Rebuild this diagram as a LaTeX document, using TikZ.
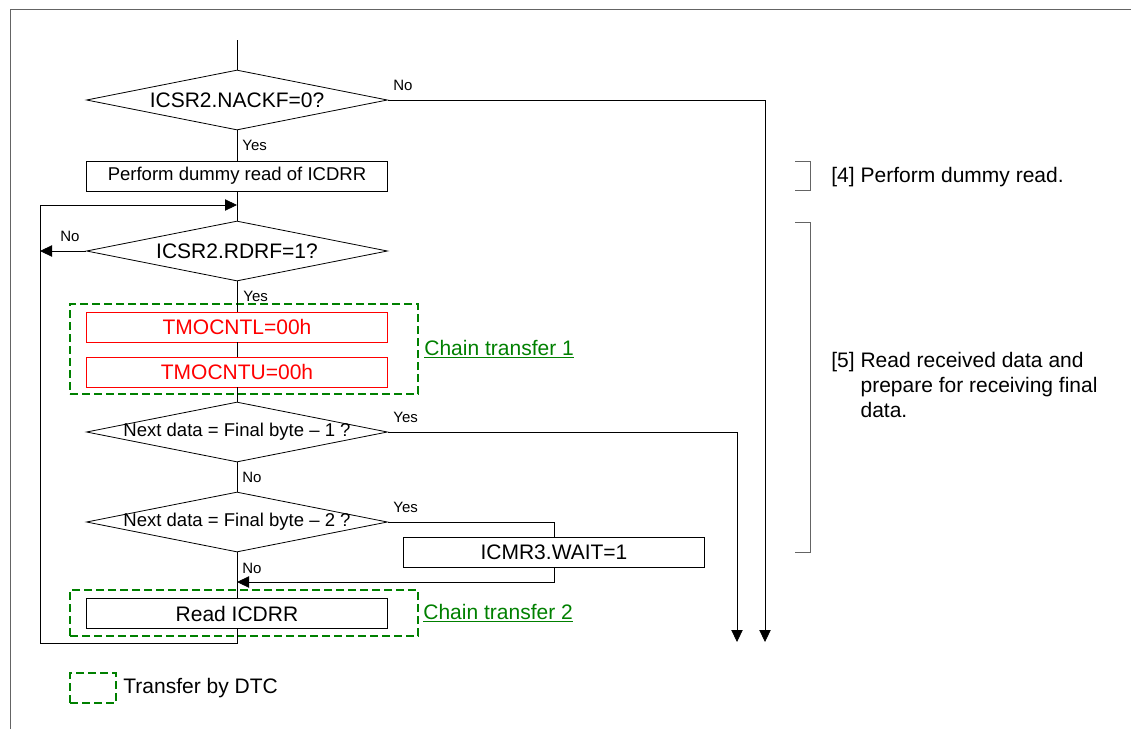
\documentclass[tikz,border=0pt]{standalone}
\usepackage{fontspec}
\setmainfont{Liberation Sans}
\usetikzlibrary{shapes.geometric,arrows.meta}

\definecolor{dtc}{RGB}{0,128,0}
\definecolor{reg}{RGB}{255,0,0}
\definecolor{frm}{RGB}{100,100,100}

\begin{document}
\begin{tikzpicture}[x=0.75pt,y=-0.75pt,line width=0.6pt,
    >={Triangle[length=9pt,width=8.5pt]},
    big/.style={font=\fontsize{15.75}{18.75}\selectfont},
    mid/.style={font=\fontsize{13.9}{16}\selectfont},
    lbl/.style={font=\fontsize{11.25}{13}\selectfont,anchor=west,inner sep=0},
    decision/.style={draw,diamond,aspect=5,inner sep=0,minimum width=225.75pt,minimum height=45pt},
    proc/.style={draw,rectangle,inner sep=0,minimum width=225.75pt,minimum height=22.5pt},
    dtcbox/.style={draw=dtc,dash pattern=on 6pt off 3pt,line width=1.1pt,inner sep=0}]

      \useasboundingbox (0,0) rectangle (1131,729);
      \draw[frm] (10,729) -- (10,9) -- (1131,9);

      \coordinate (start) at (237,40);
      \node[decision,big] (nackf) at (237,100) {\makebox[0pt]{ICSR2.NACKF=0?}};
      \node[proc,mid] (dummy) at (237,176) {Perform dummy read of ICDRR};
      \node[decision,big] (rdrf) at (237,251) {\makebox[0pt]{ICSR2.RDRF=1?}};

      \node[dtcbox,minimum width=261pt,minimum height=67.5pt] (chain1) at (244,349) {};
      \node[proc,big,draw=reg,text=reg] (cntl) at (237,327) {TMOCNTL=00h};
      \node[proc,big,draw=reg,text=reg] (cntu) at (237,372) {TMOCNTU=00h};
      \node[big,text=dtc,anchor=west,inner sep=0] (chain1txt) at (424,349) {\underline{Chain transfer 1}};

      \node[decision,mid] (last1) at (237,432) {\makebox[0pt]{Next data = Final byte – 1 ?}};
      \node[decision,mid] (last2) at (237,522) {\makebox[0pt]{Next data = Final byte – 2 ?}};
      \node[proc,big] (wait) at (554,552.5) {ICMR3.WAIT=1};

      \node[dtcbox,minimum width=261pt,minimum height=34.5pt] (chain2) at (244,613) {};
      \node[proc,big] (read) at (237,613.5) {Read ICDRR};
      \node[big,text=dtc,anchor=west,inner sep=0] (chain2txt) at (423,613) {\underline{Chain transfer 2}};

      % branch labels
      \node[lbl] (noA) at (393,85) {No};
      \node[lbl] (yesA) at (242,145) {Yes};
      \node[lbl] (noB) at (60,236) {No};
      \node[lbl] (yesB) at (243,296) {Yes};
      \node[lbl] (yesC) at (393,417) {Yes};
      \node[lbl] (noC) at (242,477) {No};
      \node[lbl] (yesD) at (393,507) {Yes};
      \node[lbl] (noD) at (242,568) {No};

      % legend
      \node[dtcbox,minimum width=34.5pt,minimum height=22.5pt] (key) at (93,688) {};
      \node[big,anchor=west,inner sep=0] (keytxt) at (123,688) {Transfer by DTC};

      % step notes
      \draw[frm] (795,161) -| (810,190) -- (795,190);
      \draw[frm] (795,222) -| (810,552) -- (795,552);
      \node[big,anchor=base west,inner sep=0] (step4) at (831,182) {[4] Perform dummy read.};
      \node[big,anchor=base west,inner sep=0] (step5) at (831,367)
        {\begin{tabular}[t]{@{}l@{\ }l@{}}[5] & Read received data and\\ & prepare for receiving final\\ & data.\end{tabular}};

      \coordinate (outA) at (765,642);
      \coordinate (outB) at (737,642);
      \coordinate (loopB) at (40,643);
      \coordinate (loopT) at (237,205);
      \coordinate (noEnd) at (40,251);
      \coordinate (join) at (237,582);

      \draw (start) -- (nackf.north);
      \draw[->] (nackf.east) -| (outA);
      \draw (nackf.south) -- (dummy.north);
      \draw (dummy.south) -- (rdrf.north);

      \draw[->] (rdrf.west) -- (noEnd);
      \draw (rdrf.south) -- (cntl.north);
      \draw (cntl.south) -- (cntu.north);
      \draw (cntu.south) -- (last1.north);

      \draw[->] (last1.east) -| (outB);
      \draw (last1.south) -- (last2.north);

      \draw (last2.east) -| (wait.north);
      \draw[->] (wait.south) |- (join);
      \draw (last2.south) -- (read.north);

      \draw[->] (read.south) |- (loopB) |- (loopT);

\end{tikzpicture}
\end{document}
